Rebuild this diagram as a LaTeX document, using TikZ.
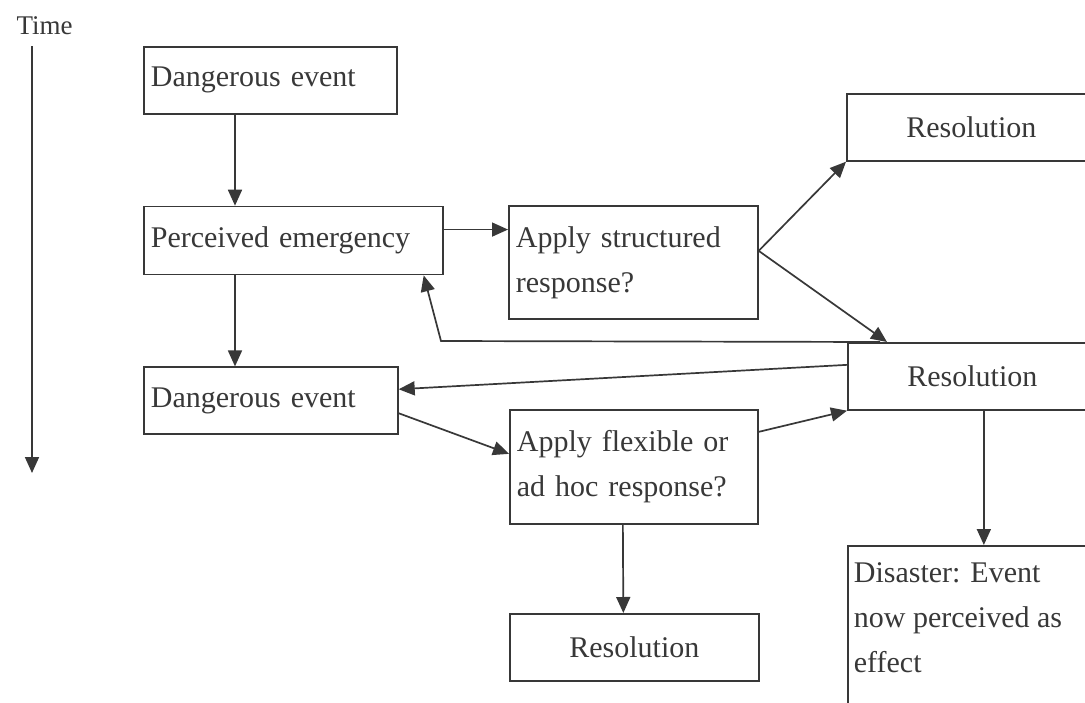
\documentclass[tikz,border=0pt]{standalone}
\usepackage{fontspec}
\setmainfont{Liberation Serif}
\usepackage{tikz}
\usetikzlibrary{positioning, arrows.meta, calc}

\definecolor{ink}{HTML}{383838}
\newcommand{\diagfont}{\fontsize{30}{45}\selectfont}

\begin{document}
\begin{tikzpicture}[
    x=1pt, y=-1pt,
    box/.style={draw=ink, line width=1.7pt, rectangle, anchor=north west, inner xsep=7pt, inner ysep=0pt, align=left, text=ink, font=\diagfont},
    resbox/.style={draw=ink, line width=1.7pt, rectangle, anchor=north west, minimum width=249pt, minimum height=67pt, align=center, text=ink, font=\diagfont},
    arr/.style={draw=ink, line width=1.7pt, -{Triangle[length=16pt, width=14pt]}}
]
\clip (0,0) rectangle (1085,702);
\fill[white] (0,0) rectangle (1085,702);

% Nodes
\node[anchor=base west, text=ink, font=\fontsize{27}{32}\selectfont] (time) at (13,34) {Time};
\coordinate (tstart) at (32,46);
\coordinate (tend) at (32,473);

\node[box, text width=239pt, minimum height=67pt] (danger1) at (143,46) {Dangerous event};
\node[box, text width=285pt, minimum height=68pt, below=91pt of danger1.south west, anchor=north west] (perceived) {Perceived emergency};
\node[box, text width=240pt, minimum height=67pt, below=91pt of perceived.south west, anchor=north west] (danger2) {Dangerous event};

\node[box, text width=235pt, minimum height=113pt] (structured) at (508,205) {Apply structured\\response?};
\node[box, text width=234pt, minimum height=114pt] (flexible) at (509,409) {Apply flexible or\\ad hoc response?};
\node[resbox] (res3) at (509,613) {Resolution};

\node[resbox] (res1) at (846,93) {Resolution};
\node[resbox] (res2) at (847,342) {Resolution};
\node[box, inner xsep=6pt, inner ysep=17pt] (disaster) at (847,545)
    {\parbox[c][151pt][t]{248pt}{Disaster: Event\\now perceived as\\effect}};

\coordinate (bend) at (441,341);

% Edges
\draw[arr] (tstart) -- (tend);
\draw[arr] ([xshift=92pt]danger1.south west) -- ([xshift=92pt]perceived.north west);
\draw[arr] ([xshift=92pt]perceived.south west) -- ([xshift=92pt]danger2.north west);
\draw[arr] ([yshift=11pt]perceived.east) -- ([yshift=11pt]perceived.east -| structured.west);
\draw[arr] ([yshift=11.5pt]structured.east) -- (res1.south west);
\draw[arr] ([yshift=11.5pt]structured.east) -- ([xshift=40pt]res2.north west);
\draw[arr] ([xshift=33pt]res2.north west) -- (bend) -- ([xshift=-20pt]perceived.south east);
\draw[arr] ([yshift=11.5pt]res2.west) -- ([yshift=11.5pt]danger2.east);
\draw[arr] ([yshift=-12.5pt]danger2.east) -- ([yshift=13pt]flexible.west);
\draw[arr] ([yshift=35pt]flexible.east) -- (res2.south west);
\draw[arr] ([xshift=-11pt]flexible.south) -- ([xshift=-11pt]res3.north);
\draw[arr] ([xshift=11.5pt]res2.south) -- ([xshift=11.5pt]res2.south |- disaster.north);

\end{tikzpicture}
\end{document}
